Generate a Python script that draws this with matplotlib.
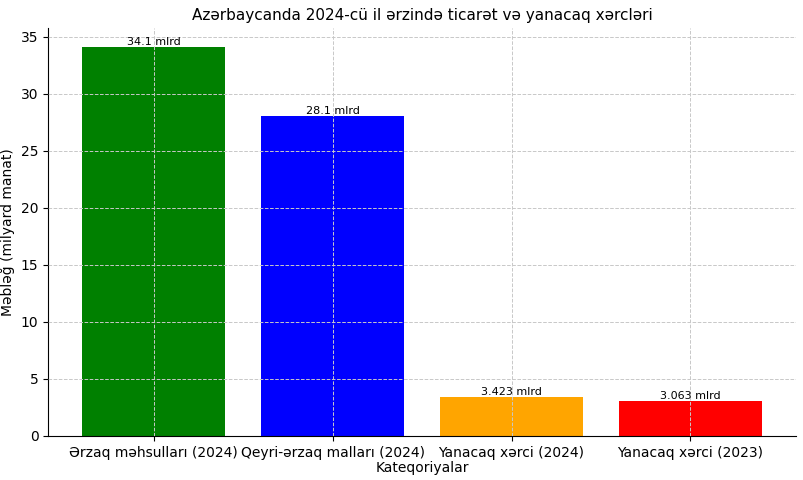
import matplotlib
matplotlib.use("Agg")
import matplotlib.pyplot as plt

categories = ["Ərzaq məhsulları (2024)", "Qeyri-ərzaq malları (2024)", "Yanacaq xərci (2024)", "Yanacaq xərci (2023)"]
values = [34.1, 28.1, 3.423, 3.063]
labels = ["34.1 mlrd", "28.1 mlrd", "3.423 mlrd", "3.063 mlrd"]
colors = ["green", "blue", "orange", "red"]

fig = plt.figure(figsize=(8.04, 4.8), dpi=100)
ax = fig.add_axes([0.06, 0.092, 0.93, 0.85])
bars = ax.bar(categories, values, color=colors)
for b, l in zip(bars, labels):
    ax.text(b.get_x() + b.get_width()/2, b.get_height(), l, ha="center", va="bottom", fontsize=8)
ax.grid(True, linestyle="--", color="#c8c8c8", linewidth=0.7)
ax.set_axisbelow(False)
ax.spines["top"].set_visible(False)
ax.spines["right"].set_visible(False)
ax.set_ylim(0, 35.8)
ax.set_title("Azərbaycanda 2024-cü il ərzində ticarət və yanacaq xərcləri", fontsize=11)
ax.set_xlabel("Kateqoriyalar", fontsize=10, labelpad=1)
ax.set_ylabel("Məbləğ (milyard manat)", fontsize=10)
ax.tick_params(labelsize=10)
fig.savefig("out.png", dpi=100)
